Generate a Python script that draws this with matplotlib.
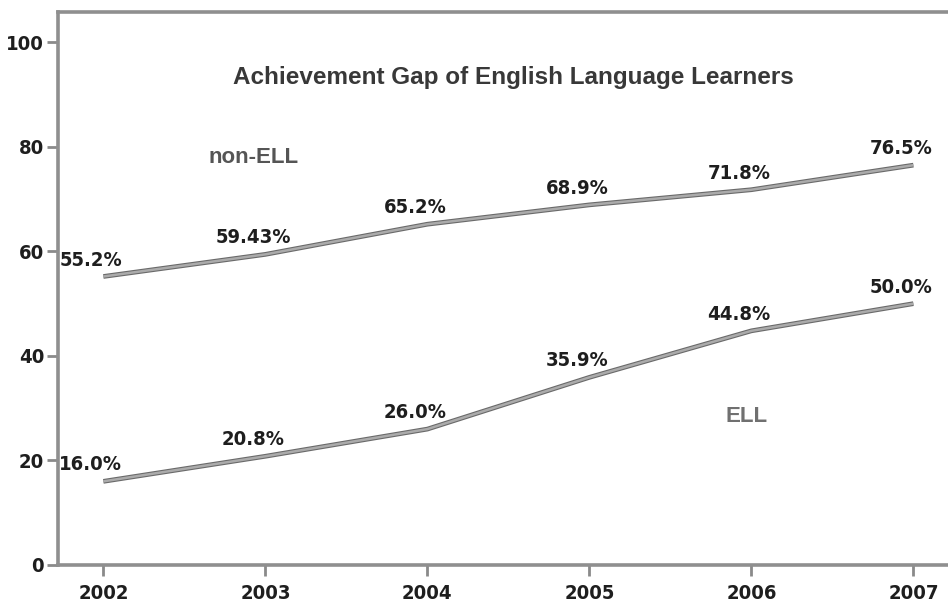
import matplotlib
matplotlib.use("Agg")
import matplotlib.pyplot as plt

# narrow bold face for numbers, Arial-like face for titles
plt.rcParams['font.family'] = ['DejaVu Sans', 'Liberation Sans']
plt.rcParams['font.stretch'] = 'condensed'
plt.rcParams['font.weight'] = 'bold'

years = [2002, 2003, 2004, 2005, 2006, 2007]
non_ell = [55.2, 59.43, 65.2, 68.9, 71.8, 76.5]
ell = [16.0, 20.8, 26.0, 35.9, 44.8, 50.0]
non_ell_labels = ["55.2%", "59.43%", "65.2%", "68.9%", "71.8%", "76.5%"]
ell_labels = ["16.0%", "20.8%", "26.0%", "35.9%", "44.8%", "50.0%"]

fig = plt.figure(figsize=(9.48, 6.04), dpi=100)
ax = fig.add_axes([0.0612, 0.0646, 0.945, 0.9155])

for vals, labs in [(non_ell, non_ell_labels), (ell, ell_labels)]:
    ax.plot(years, vals, color="#6a6a6a", lw=3.4, solid_capstyle="butt", zorder=2)
    ax.plot(years, vals, color="#ababab", lw=1.8, solid_capstyle="butt", zorder=3)
    for x, y, s in zip(years, vals, labs):
        ax.annotate(s, (x, y), xytext=(-9, 5), textcoords="offset points",
                    ha="center", va="bottom", fontsize=14.5, color="#1e1e1e")

ax.text(0.508, 0.882, "Achievement Gap of English Language Learners", transform=ax.transAxes,
        ha="center", va="center", fontsize=17.5, color="#383838",
        family="Liberation Sans", stretch="normal", weight="bold")
ax.text(2002.93, 78.0, "non-ELL", ha="center", va="center", fontsize=16, color="#555555",
        family="Liberation Sans", stretch="normal", weight="bold")
ax.text(2005.97, 28.5, "ELL", ha="center", va="center", fontsize=16, color="#707070",
        family="Liberation Sans", stretch="normal", weight="bold")

ax.set_xlim(2001.72, 2007.25)
ax.set_ylim(0, 105.8)
ax.set_xticks(years)
ax.set_yticks([0, 20, 40, 60, 80, 100])
ax.tick_params(axis="both", labelsize=14.5, labelcolor="#1e1e1e", color="#8a8a8a",
               width=2, length=8, direction="out")
ax.tick_params(axis="x", pad=6)
ax.tick_params(axis="y", pad=2)

for sp in ax.spines.values():
    sp.set_color("#8f8f8f")
    sp.set_linewidth(2.6)
ax.spines["right"].set_visible(False)

fig.savefig("out.png", dpi=100)
